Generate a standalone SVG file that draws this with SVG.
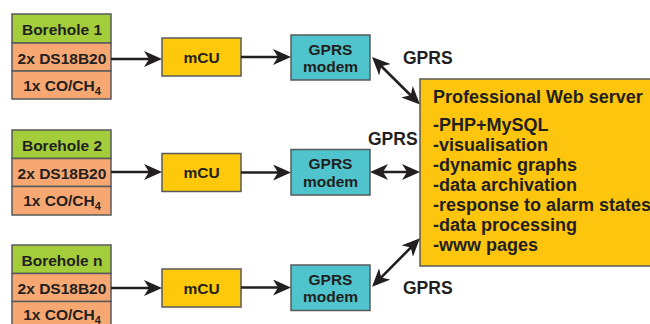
<svg xmlns="http://www.w3.org/2000/svg" width="650" height="324" viewBox="0 0 650 324">
  <style>
    text { font-family: "Liberation Sans", Arial, sans-serif; font-weight: bold; fill: #231f20; }
    .box { stroke: #58595b; stroke-width: 1.5; }
    .head { fill: #a3cd3b; }
    .sensor { fill: #f7a872; }
    .mcu { fill: #ffc90b; }
    .modem { fill: #50c4cd; }
    .server { fill: #fec50e; }
    .lbl { font-size: 15.5px; text-anchor: middle; }
    .srv { font-size: 18px; }
    .gprs { font-size: 17.5px; }
    .wire { stroke: #231f20; stroke-width: 2.6; fill: none; }
  </style>
  <defs>
    <marker id="arrow" viewBox="0 0 18 16" refX="12" refY="8" markerWidth="18" markerHeight="16" markerUnits="userSpaceOnUse" orient="auto-start-reverse">
      <path d="M0,0 L18,8 L0,16 L5,8 Z" fill="#231f20"/>
    </marker>
  </defs>

  <!-- Borehole 1 -->
  <g id="borehole1">
    <rect class="box head" x="12" y="14" width="99" height="29"/>
    <rect class="box sensor" x="12" y="43" width="99" height="28"/>
    <rect class="box sensor" x="12" y="71" width="99" height="28"/>
    <text class="lbl" x="62" y="35">Borehole 1</text>
    <text class="lbl" x="62" y="63.5">2x DS18B20</text>
    <text class="lbl" x="62" y="90.5">1x CO/CH<tspan font-size="11" dy="4">4</tspan></text>
  </g>

  <!-- Borehole 2 -->
  <g id="borehole2">
    <rect class="box head" x="12" y="130" width="99" height="28.5"/>
    <rect class="box sensor" x="12" y="158.5" width="99" height="28"/>
    <rect class="box sensor" x="12" y="186.5" width="99" height="28.5"/>
    <text class="lbl" x="62" y="151">Borehole 2</text>
    <text class="lbl" x="62" y="179">2x DS18B20</text>
    <text class="lbl" x="62" y="206">1x CO/CH<tspan font-size="11" dy="4">4</tspan></text>
  </g>

  <!-- Borehole n (bottom row runs past the lower edge) -->
  <g id="boreholeN">
    <rect class="box head" x="12" y="245" width="99" height="28.5"/>
    <rect class="box sensor" x="12" y="273.5" width="99" height="28"/>
    <rect class="box sensor" x="12" y="301.5" width="99" height="30"/>
    <text class="lbl" x="62" y="266">Borehole n</text>
    <text class="lbl" x="62" y="294">2x DS18B20</text>
    <text class="lbl" x="62" y="319.5">1x CO/CH<tspan font-size="11" dy="4">4</tspan></text>
  </g>

  <!-- Microcontrollers -->
  <g id="mcu1">
    <rect class="box mcu" x="162" y="38" width="79" height="38"/>
    <text class="lbl" x="201.5" y="62.5">mCU</text>
  </g>
  <g id="mcu2">
    <rect class="box mcu" x="162" y="153.5" width="79" height="38"/>
    <text class="lbl" x="201.5" y="178">mCU</text>
  </g>
  <g id="mcuN">
    <rect class="box mcu" x="162" y="269" width="79" height="38"/>
    <text class="lbl" x="201.5" y="293.5">mCU</text>
  </g>

  <!-- GPRS modems -->
  <g id="modem1">
    <rect class="box modem" x="291" y="35" width="79" height="45"/>
    <text class="lbl" x="330.5" y="54.5">GPRS</text>
    <text class="lbl" x="330.5" y="72">modem</text>
  </g>
  <g id="modem2">
    <rect class="box modem" x="291" y="149.5" width="79" height="45.5"/>
    <text class="lbl" x="330.5" y="169">GPRS</text>
    <text class="lbl" x="330.5" y="186.5">modem</text>
  </g>
  <g id="modemN">
    <rect class="box modem" x="291" y="265" width="79" height="45.5"/>
    <text class="lbl" x="330.5" y="284.5">GPRS</text>
    <text class="lbl" x="330.5" y="302">modem</text>
  </g>

  <!-- Web server (right side runs past the edge) -->
  <g id="server">
    <rect class="box server" x="420" y="79" width="245" height="187"/>
    <text class="srv" x="433" y="103">Professional Web server</text>
    <text class="srv" x="433" y="131">-PHP+MySQL</text>
    <text class="srv" x="433" y="151">-visualisation</text>
    <text class="srv" x="433" y="171">-dynamic graphs</text>
    <text class="srv" x="433" y="191">-data archivation</text>
    <text class="srv" x="433" y="211">-response to alarm states</text>
    <text class="srv" x="433" y="231">-data processing</text>
    <text class="srv" x="433" y="251">-www pages</text>
  </g>

  <!-- Connectors -->
  <g id="connectors">
    <line class="wire" x1="111" y1="59" x2="156" y2="59" marker-end="url(#arrow)"/>
    <line class="wire" x1="111" y1="172" x2="156" y2="172" marker-end="url(#arrow)"/>
    <line class="wire" x1="111" y1="288" x2="156" y2="288" marker-end="url(#arrow)"/>

    <line class="wire" x1="241" y1="57" x2="285" y2="57" marker-end="url(#arrow)"/>
    <line class="wire" x1="241" y1="172.5" x2="285" y2="172.5" marker-end="url(#arrow)"/>
    <line class="wire" x1="241" y1="287.5" x2="285" y2="287.5" marker-end="url(#arrow)"/>

    <line class="wire" x1="376.3" y1="61.3" x2="415.7" y2="100.2" marker-start="url(#arrow)" marker-end="url(#arrow)"/>
    <line class="wire" x1="376" y1="172" x2="414" y2="172" marker-start="url(#arrow)" marker-end="url(#arrow)"/>
    <line class="wire" x1="376.3" y1="282.4" x2="415.7" y2="242.6" marker-start="url(#arrow)" marker-end="url(#arrow)"/>

    <text class="gprs" x="403" y="63.5">GPRS</text>
    <text class="gprs" x="368" y="145">GPRS</text>
    <text class="gprs" x="403" y="294">GPRS</text>
  </g>
</svg>
